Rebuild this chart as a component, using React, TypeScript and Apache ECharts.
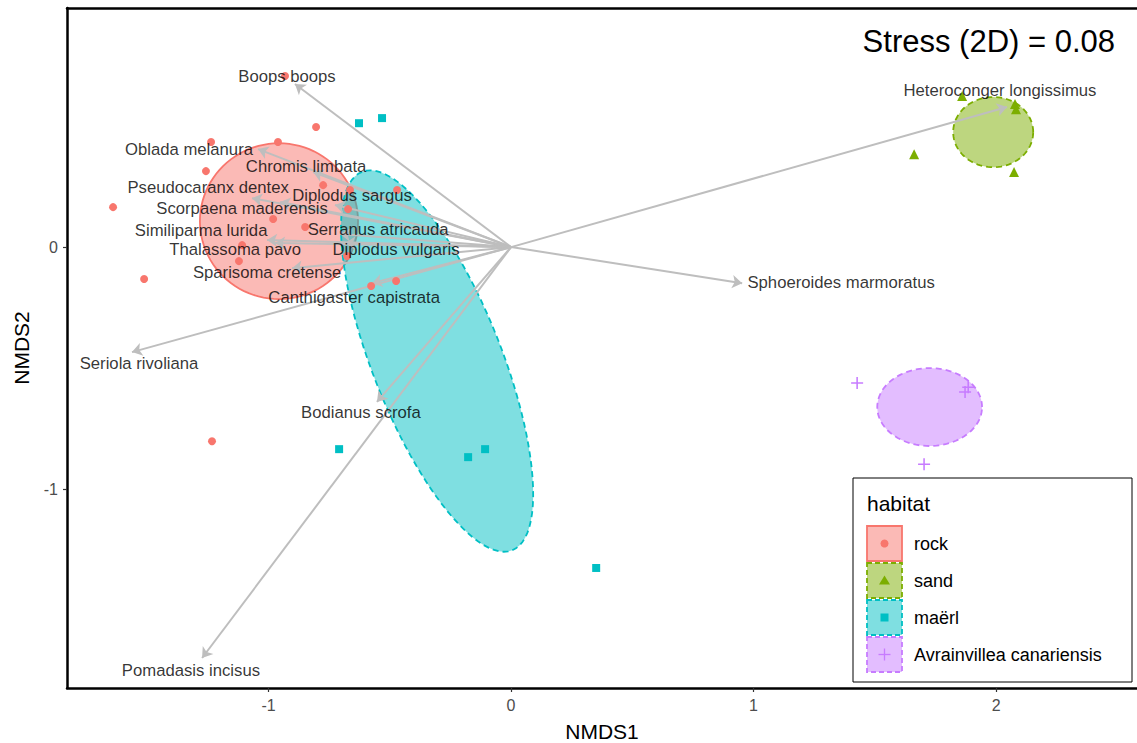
import React, { useEffect, useRef } from "react";
import * as echarts from "echarts";

const FONT = "'Liberation Sans', Arial, Helvetica, sans-serif";

// Habitat groups
const habitats = ["rock", "sand", "maërl", "Avrainvillea canariensis"];
const habitatColors = ["#F8766D", "#7CAE00", "#00BFC4", "#C77CFF"];
const habitatFills = [
  "rgba(248,118,109,0.5)",
  "rgba(124,174,0,0.5)",
  "rgba(0,191,196,0.5)",
  "rgba(199,124,255,0.5)",
];

// Site scores (NMDS1, NMDS2)
const rockX = [-0.932, -0.804, -1.237, -0.961, -1.258, -1.641, -0.775, -0.47, -0.664, -0.672, -0.981, -0.849, -1.109, -1.122, -0.676, -1.513, -0.577, -0.474, -1.233];
const rockY = [0.707, 0.496, 0.434, 0.434, 0.314, 0.165, 0.256, 0.236, 0.236, 0.157, 0.116, 0.083, 0.008, -0.058, -0.037, -0.132, -0.161, -0.14, -0.802];
const sandX = [1.86, 2.078, 2.082, 1.662, 2.074];
const sandY = [0.624, 0.591, 0.57, 0.384, 0.31];
const maerlX = [-0.627, -0.532, -0.709, -0.177, -0.107, 0.351];
const maerlY = [0.512, 0.533, -0.835, -0.868, -0.835, -1.326];
const avrX = [1.427, 1.872, 1.885, 1.703];
const avrY = [-0.562, -0.599, -0.579, -0.897];

// Ellipses per habitat: centre, semi-axes, rotation (deg)
const ellCX = [-0.957, 1.988, -0.305, 1.726];
const ellCY = [0.107, 0.475, -0.471, -0.661];
const ellA = [0.326, 0.165, 0.841, 0.216];
const ellB = [0.322, 0.145, 0.266, 0.161];
const ellAngle = [0, 0, 111.6, 0];

// Species vectors
const species = [
  "Boops boops", "Oblada melanura", "Chromis limbata", "Pseudocaranx dentex",
  "Scorpaena maderensis", "Diplodus sargus", "Similiparma lurida", "Thalassoma pavo",
  "Serranus atricauda", "Diplodus vulgaris", "Sparisoma cretense", "Canthigaster capistrata",
  "Seriola rivoliana", "Bodianus scrofa", "Pomadasis incisus", "Sphoeroides marmoratus",
  "Heteroconger longissimus",
];
const arrowX = [-0.891, -1.043, -0.816, -1.068, -0.952, -0.726, -1.006, -0.973, -0.705, -0.684, -0.903, -0.573, -1.563, -0.553, -1.274, 0.953, 2.045];
const arrowY = [0.674, 0.405, 0.31, 0.202, 0.186, 0.174, 0.029, 0.017, 0.054, 0.017, -0.087, -0.149, -0.434, -0.64, -1.698, -0.149, 0.579];
const labelX = [-0.924, -1.328, -0.845, -1.249, -1.109, -0.656, -1.278, -1.138, -0.548, -0.474, -1.006, -0.647, -1.534, -0.619, -1.32, 1.361, 2.016];
const labelY = [0.707, 0.405, 0.335, 0.248, 0.161, 0.215, 0.07, -0.012, 0.074, -0.008, -0.103, -0.207, -0.483, -0.682, -1.748, -0.145, 0.649];

const xTicks = [-1, 0, 1, 2];
const yTicks = [-1, 0];
const stressText = "Stress (2D) = 0.08";

const PLUS_PATH = "path://M4.35,0H5.65V4.35H10V5.65H5.65V10H4.35V5.65H0V4.35H4.35Z";

export default function App() {
  const ref = useRef<HTMLDivElement>(null);
  useEffect(() => {
    if (!ref.current) return;
    const chart = echarts.init(ref.current, null, { renderer: "svg" });

    const ellipseSeries = {
      type: "custom",
      coordinateSystem: "cartesian2d",
      z: 1,
      silent: true,
      data: ellCX.map((x, i) => [x, ellCY[i]]),
      encode: { x: 0, y: 1 },
      renderItem: (params: any, api: any) => {
        const i = params.dataIndex;
        const th = (ellAngle[i] * Math.PI) / 180;
        const c = Math.cos(th), s = Math.sin(th);
        const pts: number[][] = [];
        for (let k = 0; k <= 96; k++) {
          const t = (k / 96) * Math.PI * 2;
          const dx = ellA[i] * Math.cos(t);
          const dy = ellB[i] * Math.sin(t);
          pts.push(api.coord([ellCX[i] + dx * c - dy * s, ellCY[i] + dx * s + dy * c]));
        }
        return {
          type: "polygon",
          shape: { points: pts },
          z2: i,
          style: {
            fill: habitatFills[i],
            stroke: habitatColors[i],
            lineWidth: 1.8,
            lineDash: i === 0 ? null : [6, 4],
          },
        };
      },
    };

    const pointSeries = [
      { xs: rockX, ys: rockY, symbol: "circle", size: 8 },
      { xs: sandX, ys: sandY, symbol: "triangle", size: 10 },
      { xs: maerlX, ys: maerlY, symbol: "rect", size: 8 },
      { xs: avrX, ys: avrY, symbol: PLUS_PATH, size: 12 },
    ].map((d, i) => ({
      type: "scatter",
      name: habitats[i],
      z: 3,
      symbol: d.symbol,
      symbolSize: d.size,
      itemStyle: { color: habitatColors[i], opacity: 1 },
      data: d.xs.map((x, j) => [x, d.ys[j]]),
    }));

    const arrowSeries = {
      type: "lines",
      coordinateSystem: "cartesian2d",
      z: 2,
      silent: true,
      symbol: ["none", "arrow"],
      symbolSize: 10,
      lineStyle: { color: "#BEBEBE", width: 2, opacity: 1, curveness: 0 },
      data: arrowX.map((x, i) => ({ coords: [[0, 0], [x, arrowY[i]]] })),
    };

    const labelSeries = {
      type: "scatter",
      z: 5,
      silent: true,
      symbolSize: 1,
      itemStyle: { color: "rgba(0,0,0,0)" },
      data: species.map((n, i) => [labelX[i], labelY[i], n]),
      label: {
        show: true,
        position: "inside",
        formatter: (p: any) => p.data[2],
        color: "#000",
        fontSize: 16.7,
        fontFamily: FONT,
      },
      labelLayout: { hideOverlap: false },
    };

    // Legend drawn as graphic
    const legendLeft = 853, legendTop = 478;
    const keyX = 867, keyY0 = 526, keyStep = 37, keySize = 35;
    const legendChildren: any[] = [
      {
        type: "rect",
        shape: { x: legendLeft, y: legendTop, width: 279, height: 204 },
        style: { fill: "#fff", stroke: "#000", lineWidth: 1 },
      },
      {
        type: "text",
        x: keyX,
        y: 503,
        style: { text: "habitat", fontSize: 21, fontFamily: FONT, fill: "#000", verticalAlign: "middle" },
      },
    ];
    habitats.forEach((h, i) => {
      const y = keyY0 + i * keyStep;
      const cx = keyX + keySize / 2, cy = y + keySize / 2;
      legendChildren.push({
        type: "rect",
        shape: { x: keyX, y, width: keySize, height: keySize },
        style: { fill: habitatFills[i], stroke: habitatColors[i], lineWidth: 1.8, lineDash: i === 0 ? null : [5, 3] },
      });
      if (i === 0) {
        legendChildren.push({ type: "circle", shape: { cx, cy, r: 4 }, style: { fill: habitatColors[i] } });
      } else if (i === 1) {
        legendChildren.push({
          type: "polygon",
          shape: { points: [[cx, cy - 5], [cx + 5.5, cy + 4], [cx - 5.5, cy + 4]] },
          style: { fill: habitatColors[i] },
        });
      } else if (i === 2) {
        legendChildren.push({ type: "rect", shape: { x: cx - 4, y: cy - 4, width: 8, height: 8 }, style: { fill: habitatColors[i] } });
      } else {
        legendChildren.push({ type: "line", shape: { x1: cx - 6, y1: cy, x2: cx + 6, y2: cy }, style: { stroke: habitatColors[i], lineWidth: 1.3 } });
        legendChildren.push({ type: "line", shape: { x1: cx, y1: cy - 6, x2: cx, y2: cy + 6 }, style: { stroke: habitatColors[i], lineWidth: 1.3 } });
      }
      legendChildren.push({
        type: "text",
        x: 914,
        y: cy,
        style: { text: h, fontSize: 18, fontFamily: FONT, fill: "#000", verticalAlign: "middle" },
      });
    });

    const axisCommon = {
      type: "value",
      splitLine: { show: false },
    };

    chart.setOption({
      animation: false,
      backgroundColor: "#fff",
      textStyle: { fontFamily: FONT },
      title: {
        text: stressText,
        right: 17,
        top: 21,
        textStyle: { fontSize: 31, fontWeight: "normal", color: "#000", fontFamily: FONT },
      },
      grid: { left: 67, right: 0, top: 8, bottom: 55, show: false, containLabel: false, outerBoundsMode: "none" },
      xAxis: [
        {
          ...axisCommon,
          position: "bottom",
          min: -1.831,
          max: 2.581,
          name: "NMDS1",
          nameLocation: "middle",
          nameGap: 33,
          nameTextStyle: { fontSize: 21, color: "#000", fontFamily: FONT },
          axisLine: { show: true, onZero: false, lineStyle: { color: "#000", width: 2.5 } },
          axisTick: { show: true, length: 4, customValues: xTicks, lineStyle: { color: "#333", width: 1.2 } },
          axisLabel: { show: true, customValues: xTicks, color: "#4D4D4D", fontSize: 16, margin: 9, fontFamily: FONT },
        },
        {
          ...axisCommon,
          position: "top",
          min: -1.831,
          max: 2.581,
          axisLine: { show: true, onZero: false, lineStyle: { color: "#000", width: 2.5 } },
          axisTick: { show: false },
          axisLabel: { show: false },
        },
      ],
      yAxis: [
        {
          ...axisCommon,
          position: "left",
          min: -1.822,
          max: 0.988,
          name: "NMDS2",
          nameLocation: "middle",
          nameGap: 35,
          nameTextStyle: { fontSize: 21, color: "#000", fontFamily: FONT },
          axisLine: { show: true, onZero: false, lineStyle: { color: "#000", width: 2.5 } },
          axisTick: { show: true, length: 4, customValues: yTicks, lineStyle: { color: "#333", width: 1.2 } },
          axisLabel: { show: true, customValues: yTicks, color: "#4D4D4D", fontSize: 16, margin: 9, fontFamily: FONT },
        },
      ],
      graphic: [{ type: "group", z: 100, children: legendChildren }],
      series: [ellipseSeries, arrowSeries, ...pointSeries, labelSeries],
    });

    return () => chart.dispose();
  }, []);

  return (
    <div
      ref={ref}
      style={{ position: "fixed", left: 0, top: 0, width: 1137, height: 743, background: "#fff" }}
    />
  );
}
